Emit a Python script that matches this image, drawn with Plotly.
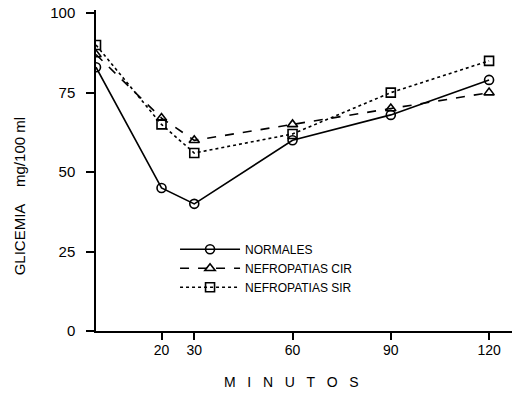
import plotly.graph_objects as go

minutes = [0, 20, 30, 60, 90, 120]
normales = [83, 45, 40, 60, 68, 79]
nefro_cir = [87, 67, 60, 65, 70, 75]
nefro_sir = [90, 65, 56, 62, 75, 85]

series_names = ["NORMALES", "NEFROPATIAS CIR", "NEFROPATIAS SIR"]
x_ticks = [20, 30, 60, 90, 120]
y_ticks = [0, 25, 50, 75, 100]

FONT = "Liberation Sans, Arial, sans-serif"
NB = "\u00a0"

fig = go.Figure()
styles = [
    (normales, "circle-open", "solid"),
    (nefro_cir, "triangle-up-open", "dash"),
    (nefro_sir, "square-open", "dot"),
]
for name, (vals, sym, dash) in zip(series_names, styles):
    fig.add_trace(go.Scatter(
        x=minutes, y=vals, name=name, mode="lines+markers",
        line=dict(color="black", width=1.6, dash=dash),
        marker=dict(symbol=sym, size=9, color="black", line=dict(width=1.6, color="black")),
    ))

fig.update_layout(
    width=515, height=402,
    margin=dict(l=96, r=3, t=10, b=71),
    paper_bgcolor="white", plot_bgcolor="white",
    font=dict(family=FONT, size=15, color="black"),
    showlegend=True,
    legend=dict(
        x=0.19, y=0.30, xanchor="left", yanchor="top",
        bgcolor="rgba(0,0,0,0)", font=dict(size=12, family=FONT),
        itemwidth=60, tracegroupgap=0,
    ),
    xaxis=dict(
        range=[0, 127], tickvals=x_ticks, ticktext=[str(v) for v in x_ticks],
        showgrid=False, zeroline=False, showline=True, linecolor="black", linewidth=1.5,
        ticks="outside", ticklen=7, tickwidth=1.5, tickcolor="black",
        tickfont=dict(size=14), ticklabelstandoff=-2,
    ),
    yaxis=dict(
        range=[0, 101], tickvals=y_ticks, ticktext=[str(v) for v in y_ticks],
        showgrid=False, zeroline=False, showline=True, linecolor="black", linewidth=1.5,
        ticks="outside", ticklen=8, tickwidth=1.5, tickcolor="black",
        tickfont=dict(size=15), ticklabelstandoff=8,
    ),
    annotations=[
        dict(text="GLICEMIA" + NB * 4 + "mg/100 ml", xref="paper", yref="paper", x=-0.21, y=0.42,
             textangle=-90, showarrow=False, font=dict(size=15)),
        dict(text=(NB * 3).join("MINUTOS"), xref="paper", yref="paper", x=0.471, y=-0.19,
             showarrow=False, font=dict(size=14)),
    ],
)

fig.write_html("out.html", config={"displayModeBar": False},
               post_script="document.body.style.margin='0';")
